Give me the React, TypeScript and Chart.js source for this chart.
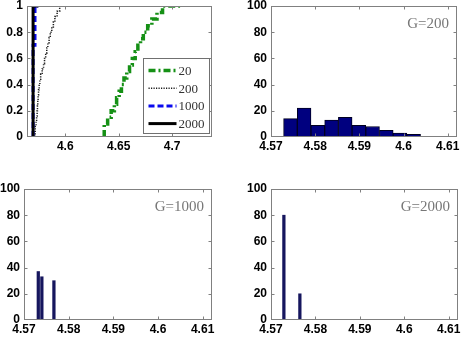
import React, { useEffect, useRef } from "react";
import { Chart, registerables } from "chart.js";

Chart.register(...registerables);

// ---------------- data ----------------
const cdfXTicks = [4.6, 4.65, 4.7];
const cdfYTicks = [0, 0.2, 0.4, 0.6, 0.8, 1];
const cdfXRange = [4.5642, 4.7374];
const histXTicks = [4.57, 4.58, 4.59, 4.6, 4.61];
const histYTicks = [0, 20, 40, 60, 80, 100];
const histXRange = [4.57, 4.6121];

const seriesNames = ["20", "200", "1000", "2000"];

// sorted sample values
const cdf20Sorted = [
  4.6365, 4.6397, 4.643, 4.646, 4.6481, 4.6505, 4.6526, 4.655, 4.6576, 4.6602,
  4.6628, 4.6655, 4.668, 4.6705, 4.6731, 4.6772, 4.6811, 4.6859, 4.6911, 4.7075,
];
const cdf200Sorted = [
  4.5719, 4.5727, 4.5732, 4.5737, 4.574, 4.5743, 4.5746, 4.575, 4.5756, 4.5762,
  4.577, 4.5784, 4.5797, 4.5806, 4.5817, 4.5827, 4.5837, 4.5849, 4.586, 4.5874,
  4.5889, 4.5903, 4.5924, 4.5948, 4.597,
];
const cdf1000Values = [4.5699, 4.5717, 4.5748];
const cdf1000Levels = [0.37, 0.7, 1.0];
const cdf2000Values = [4.5699, 4.5748];
const cdf2000Levels = [0.8, 1.0];

const hist200Centers = [4.5744, 4.5775, 4.5806, 4.5837, 4.5868, 4.5899, 4.593, 4.5961, 4.5992, 4.6023];
const hist200Counts = [14, 22, 9, 13, 15, 9, 8, 5, 3, 2];
const hist1000Values = [4.5732, 4.574, 4.5767];
const hist1000Counts = [37, 33, 30];
const hist2000Values = [4.5729, 4.5765];
const hist2000Counts = [80, 20];

const panelNotes = ["G=200", "G=1000", "G=2000"];

// ---------------- helpers ----------------
const TICK_FONT = { family: "'Liberation Sans', Arial, sans-serif", size: 12, weight: "bold" as const };

function xScale(range: number[], ticks: number[], h: number) {
  return {
    type: "linear" as const,
    min: range[0],
    max: range[1],
    offset: false,
    grid: { display: false, drawTicks: false },
    border: { display: false },
    afterBuildTicks: (s: any) => {
      s.ticks = ticks.map((v) => ({ value: v }));
    },
    afterFit: (s: any) => {
      s.height = h;
      s.paddingLeft = 0;
      s.paddingRight = 0;
    },
    ticks: {
      font: TICK_FONT,
      color: "#000",
      padding: 2,
      maxRotation: 0,
      autoSkip: false,
      callback: (v: any) => String(v),
    },
  };
}

function yScale(range: number[], ticks: number[], w: number) {
  return {
    type: "linear" as const,
    min: range[0],
    max: range[1],
    grid: { display: false, drawTicks: false },
    border: { display: false },
    afterBuildTicks: (s: any) => {
      s.ticks = ticks.map((v) => ({ value: v }));
    },
    afterFit: (s: any) => {
      s.width = w;
      s.paddingTop = 0;
      s.paddingBottom = 0;
    },
    ticks: {
      font: TICK_FONT,
      color: "#000",
      padding: 4,
      autoSkip: false,
      callback: (v: any) => String(v),
    },
  };
}

const framePlugin = {
  id: "frame",
  afterDatasetsDraw(chart: any, _args: any, opts: any) {
    const { ctx, chartArea: a } = chart;
    const xs = chart.scales.x;
    const ys = chart.scales.y;
    ctx.save();
    const L = Math.round(a.left) + 0.5;
    const R = Math.round(a.right) - 0.5;
    const T = Math.round(a.top) + 0.5;
    const B = Math.round(a.bottom) - 0.5;
    ctx.strokeStyle = "#808080";
    ctx.lineWidth = 1;
    ctx.setLineDash([]);
    ctx.strokeRect(L, T, R - L, B - T);
    ctx.beginPath();
    xs.ticks.forEach((t: any) => {
      const p = Math.round(xs.getPixelForValue(t.value)) + 0.5;
      if (p - L < 2 || R - p < 2) return;
      ctx.moveTo(p, B);
      ctx.lineTo(p, B - 3);
      ctx.moveTo(p, T);
      ctx.lineTo(p, T + 3);
    });
    ys.ticks.forEach((t: any) => {
      const p = Math.round(ys.getPixelForValue(t.value)) + 0.5;
      if (p - T < 2 || B - p < 2) return;
      ctx.moveTo(L, p);
      ctx.lineTo(L + 3, p);
      ctx.moveTo(R, p);
      ctx.lineTo(R - 3, p);
    });
    ctx.stroke();

    if (opts && opts.note) {
      ctx.font = "15px 'Liberation Serif', 'Times New Roman', serif";
      ctx.fillStyle = "#777777";
      ctx.textAlign = "right";
      ctx.textBaseline = "alphabetic";
      ctx.fillText(opts.note, a.right - 8, a.top + 22);
    }

    if (opts && opts.legend) {
      const bw = 66;
      const bh = 75;
      const bx = Math.round(a.right - 3 - bw) + 0.5;
      const by = Math.round(a.bottom - 4 - bh) + 0.5;
      ctx.fillStyle = "#ffffff";
      ctx.fillRect(bx, by, bw, bh);
      ctx.strokeStyle = "#707070";
      ctx.lineWidth = 1;
      ctx.strokeRect(bx, by, bw, bh);
      chart.data.datasets.forEach((ds: any, i: number) => {
        const yy = by + 12 + i * 17.7;
        ctx.save();
        ctx.strokeStyle = ds.borderColor;
        ctx.lineWidth = ds.borderWidth;
        ctx.setLineDash(ds.borderDash || []);
        ctx.beginPath();
        ctx.moveTo(bx + 5, yy);
        ctx.lineTo(bx + 33, yy);
        ctx.stroke();
        ctx.restore();
        ctx.font = "13px 'Liberation Serif', 'Times New Roman', serif";
        ctx.fillStyle = "#333333";
        ctx.textAlign = "left";
        ctx.textBaseline = "middle";
        ctx.fillText(ds.label, bx + 35, yy + 1);
      });
    }
    ctx.restore();
  },
};

function ecdfPoints(values: number[], levels: number[]) {
  return [{ x: values[0], y: 0 }, ...values.map((x, i) => ({ x, y: levels[i] }))];
}
function sortedLevels(values: number[]) {
  return values.map((_, i) => (i + 1) / values.length);
}

type Box = { l: number; t: number; r: number; b: number };
type Rect = { x: number; y: number; w: number; h: number };
const X_AXIS_H = 22;

function layoutFor(box: Box, cv: Rect) {
  return {
    yW: box.l - cv.x,
    padding: {
      left: 0,
      top: box.t - cv.y,
      right: cv.x + cv.w - box.r,
      bottom: cv.y + cv.h - box.b - X_AXIS_H,
    },
  };
}

function cdfConfig(box: Box, cv: Rect): any {
  const lay = layoutFor(box, cv);
  return {
    type: "line",
    data: {
      datasets: [
        {
          label: seriesNames[0],
          data: ecdfPoints(cdf20Sorted, sortedLevels(cdf20Sorted)),
          borderColor: "#159015",
          borderWidth: 3.5,
          borderDash: [7, 3, 2, 3],
          stepped: "after",
          pointRadius: 0,
          order: 3,
        },
        {
          label: seriesNames[1],
          data: ecdfPoints(cdf200Sorted, sortedLevels(cdf200Sorted)),
          borderColor: "#1c1c1c",
          borderWidth: 1.5,
          borderDash: [1.2, 1.3],
          stepped: "after",
          pointRadius: 0,
          order: 2,
        },
        {
          label: seriesNames[2],
          data: ecdfPoints(cdf1000Values, cdf1000Levels),
          borderColor: "#0a0aee",
          borderWidth: 3,
          borderDash: [6, 3],
          stepped: "after",
          pointRadius: 0,
          order: 1,
        },
        {
          label: seriesNames[3],
          data: ecdfPoints(cdf2000Values, cdf2000Levels),
          borderColor: "#000000",
          borderWidth: 3,
          stepped: "after",
          pointRadius: 0,
          order: 0,
        },
      ],
    },
    options: {
      responsive: false,
      animation: false,
      devicePixelRatio: 1,
      layout: { padding: lay.padding },
      scales: {
        x: xScale(cdfXRange, cdfXTicks, X_AXIS_H),
        y: yScale([0, 1], cdfYTicks, lay.yW),
      },
      plugins: {
        legend: { display: false },
        tooltip: { enabled: false },
        frame: { legend: true },
      },
    },
    plugins: [framePlugin],
  };
}

function histConfig(box: Box, cv: Rect, xs: number[], counts: number[], note: string, thin: boolean): any {
  const lay = layoutFor(box, cv);
  const ds: any = {
    label: note,
    data: xs.map((x, i) => ({ x, y: counts[i] })),
    backgroundColor: thin ? "#16165e" : "#00007f",
    borderColor: "#000020",
    borderWidth: thin ? 0 : 1,
    barPercentage: 1,
    categoryPercentage: 1,
  };
  if (thin) ds.barThickness = 2.6;
  return {
    type: "bar",
    data: { datasets: [ds] },
    options: {
      responsive: false,
      animation: false,
      devicePixelRatio: 1,
      layout: { padding: lay.padding },
      scales: {
        x: xScale(histXRange, histXTicks, X_AXIS_H),
        y: yScale([0, 100], histYTicks, lay.yW),
      },
      plugins: {
        legend: { display: false },
        tooltip: { enabled: false },
        frame: { note },
      },
    },
    plugins: [framePlugin],
  };
}

function Panel({ cv, make }: { cv: Rect; make: () => any }) {
  const ref = useRef<HTMLCanvasElement>(null);
  useEffect(() => {
    const chart = new Chart(ref.current as HTMLCanvasElement, make());
    return () => chart.destroy();
  }, []);
  return (
    <canvas
      ref={ref}
      width={cv.w}
      height={cv.h}
      style={{ position: "absolute", left: cv.x, top: cv.y, width: cv.w, height: cv.h }}
    />
  );
}

const cvTL: Rect = { x: 0, y: 0, w: 232, h: 175 };
const cvTR: Rect = { x: 232, y: 0, w: 233, h: 175 };
const cvBL: Rect = { x: 0, y: 175, w: 232, h: 174 };
const cvBR: Rect = { x: 232, y: 175, w: 233, h: 174 };

const boxTL: Box = { l: 27, t: 6, r: 212, b: 137 };
const boxTR: Box = { l: 271, t: 6, r: 457, b: 137 };
const boxBL: Box = { l: 24, t: 189, r: 212, b: 320 };
const boxBR: Box = { l: 271, t: 189, r: 458, b: 320 };

export default function App() {
  return (
    <div style={{ position: "absolute", left: 0, top: 0, width: 465, height: 349, background: "#fff", overflow: "hidden" }}>
      <Panel cv={cvTL} make={() => cdfConfig(boxTL, cvTL)} />
      <Panel cv={cvTR} make={() => histConfig(boxTR, cvTR, hist200Centers, hist200Counts, panelNotes[0], false)} />
      <Panel cv={cvBL} make={() => histConfig(boxBL, cvBL, hist1000Values, hist1000Counts, panelNotes[1], true)} />
      <Panel cv={cvBR} make={() => histConfig(boxBR, cvBR, hist2000Values, hist2000Counts, panelNotes[2], true)} />
    </div>
  );
}
